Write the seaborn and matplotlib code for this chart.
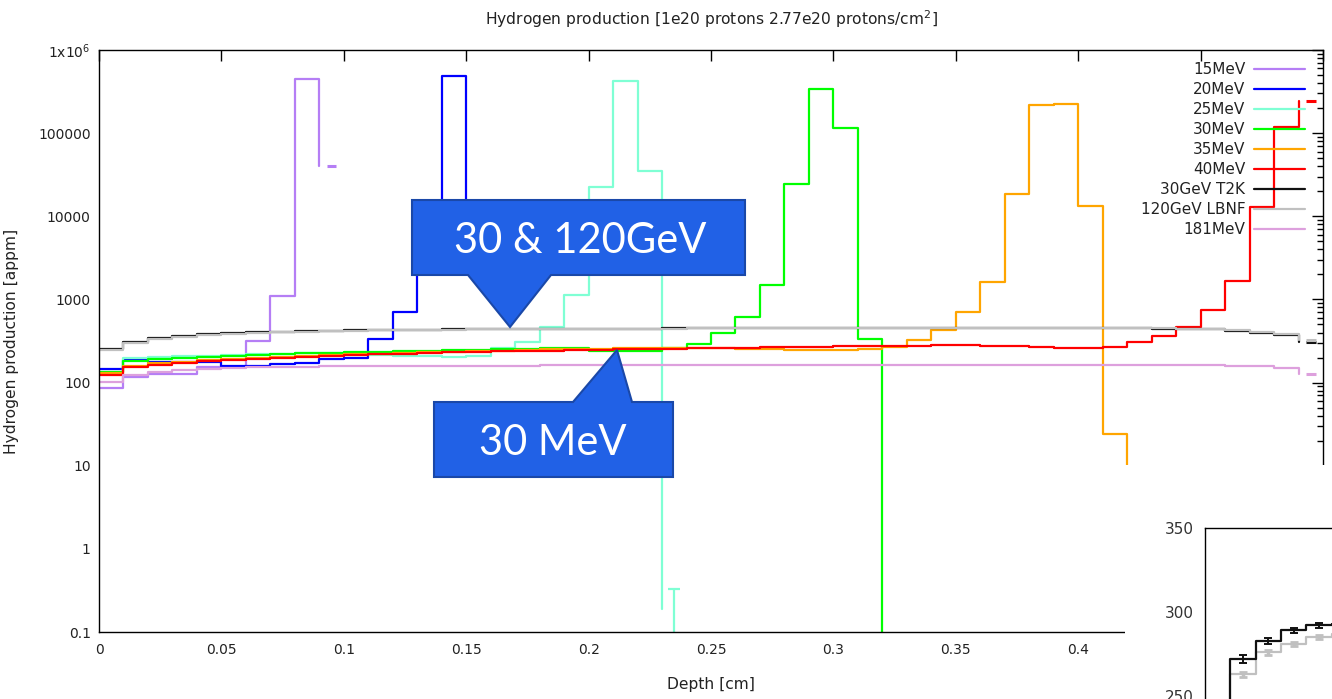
import numpy as np
import pandas as pd
import matplotlib
matplotlib.use("Agg")
import matplotlib.pyplot as plt
import seaborn as sns
from matplotlib.patches import Polygon, Rectangle
from matplotlib.lines import Line2D
from matplotlib.ticker import FixedLocator, FixedFormatter, LogLocator, NullFormatter

# ---------------- data (appm per 0.01 cm depth bin, starting at 0) ----------------
BIN = 0.01
series_names = ["15MeV", "20MeV", "25MeV", "30MeV", "35MeV", "40MeV",
                "30GeV T2K", "120GeV LBNF", "181MeV"]
series_colors = ["#b57ef5", "#0000ff", "#7fffd4", "#00ff00", "#ffa500", "#ff0000",
                 "#111111", "#c0c0c0", "#dda0dd"]

mev15 = [86, 117, 127, 127, 154, 155, 316, 1100, 448000, 40300]
mev20 = [146, 186, 178, 178, 176, 157, 158, 165, 172, 192, 198, 334, 706, 6000, 487000, 8000]
mev25 = [134, 196, 201, 206, 211, 215, 218, 221, 224, 226, 222, 216, 210, 207, 205, 206,
         261, 310, 470, 1130, 22500, 424000, 35000, 0.19]
mev30 = [135, 183, 192, 199, 205, 211, 216, 220, 225, 229, 232, 236, 239, 242, 246, 249,
         252, 255, 258, 260, 240, 238, 241, 262, 292, 390, 623, 1490, 24700, 335000, 115000,
         330, 0.001]
mev35 = [130, 158, 170, 178, 186, 193, 199, 205, 210, 215, 219, 223, 227, 231, 235, 239,
         243, 246, 250, 253, 256, 259, 262, 264, 262, 258, 255, 252, 248, 246, 244, 250,
         268, 325, 429, 712, 1636, 18400, 218000, 222000, 13300, 24, 1]
mev40 = [124, 152, 163, 172, 180, 187, 193, 199, 204, 209, 214, 218, 222, 226, 230, 234,
         237, 240, 243, 246, 249, 251, 254, 256, 258, 261, 263, 265, 268, 270, 272, 274,
         277, 279, 281, 282, 279, 275, 266, 262, 263, 270, 308, 363, 470, 746, 1667, 12800,
         120000, 245000]
gev30_t2k = [254, 310, 340, 366, 384, 395, 403, 410, 415, 420, 424, 428, 431, 434, 436, 438,
             440, 442, 443, 444, 445, 446, 447, 448, 448, 449, 449, 450, 450, 450, 450, 450,
             450, 450, 450, 450, 450, 450, 450, 450, 450, 449, 448, 446, 444, 437, 415, 395,
             375, 310]
gev120_lbnf = [245, 300, 330, 356, 375, 388, 397, 405, 411, 416, 421, 425, 429, 432, 434, 437,
               439, 441, 442, 443, 444, 445, 446, 447, 448, 449, 449, 450, 450, 451, 451, 451,
               451, 451, 451, 451, 451, 451, 451, 451, 452, 452, 452, 450, 447, 440, 425, 405,
               380, 325]
mev181 = [102, 125, 135, 142, 147, 151, 153, 155, 156, 157, 158, 158, 159, 159, 160, 160,
          160, 160, 161, 161, 161, 161, 161, 162, 162, 162, 162, 162, 162, 162, 162, 162,
          162, 163, 163, 163, 163, 163, 163, 163, 163, 163, 163, 163, 163, 163, 157, 157,
          150, 127]
series_values = [mev15, mev20, mev25, mev30, mev35, mev40, gev30_t2k, gev120_lbnf, mev181]

# 25 MeV last-bin error bar (upper end)
mev25_last_upper = 0.33

# inset (zoom on the GeV curves)
inset_depth = [0.001, 0.002, 0.003, 0.004, 0.005]
inset_t2k = [272, 283, 289, 292, 293]
inset_lbnf = [263, 276, 281, 285, 287]
inset_t2k_err = [2.5, 1.8, 1.5, 1.5, 1.5]
inset_lbnf_err = [1.5, 1.5, 1.2, 1.2, 1.2]

x_ticks = [0, 0.05, 0.1, 0.15, 0.2, 0.25, 0.3, 0.35, 0.4, 0.45, 0.5]
x_ticklabels = ["0", "0.05", "0.1", "0.15", "0.2", "0.25", "0.3", "0.35", "0.4", "0.45", "0.5"]
y_ticks = [0.1, 1, 10, 100, 1000, 10000, 100000, 1e6]
y_ticklabels = ["0.1", "1", "10", "100", "1000", "10000", "100000", r"1x10$^6$"]

title = r"Hydrogen production [1e20 protons 2.77e20 protons/cm$^2$]"

# ---------------- build long table ----------------
rows = []
for name, vals in zip(series_names, series_values):
    for i, v in enumerate(vals):
        rows.append({"series": name, "depth": round(i * BIN, 4), "value": v})
df = pd.DataFrame(rows)

sns.set_theme(style="white")
plt.rcParams["font.family"] = ["DejaVu Sans"]
plt.rcParams["axes.edgecolor"] = "black"
plt.rcParams["axes.linewidth"] = 1.0

W, H = 1332, 699
fig = plt.figure(figsize=(W / 100, H / 100), dpi=100)
fig.patch.set_facecolor("white")

def fx(px):
    return px / W

def fy(py):
    return 1 - py / H

ax = fig.add_axes([fx(99), fy(632), fx(1323) - fx(99), fy(50) - fy(632)])
ax.set_yscale("log")

palette = dict(zip(series_names, series_colors))
sns.lineplot(data=df, x="depth", y="value", hue="series", hue_order=series_names,
             palette=palette, drawstyle="steps-post", estimator=None, sort=False,
             linewidth=1.6, legend=False, ax=ax)

# last bin of each series shown as a short dash at the bin centre
for name, vals in zip(series_names, series_values):
    c = (len(vals) - 1) * BIN + BIN / 2
    if name == "25MeV":
        ax.errorbar([c], [vals[-1]], yerr=[[vals[-1] * 0.999], [mev25_last_upper - vals[-1]]],
                    fmt="none", ecolor=palette[name], elinewidth=1.6, capsize=4, capthick=1.6)
    else:
        ax.hlines(vals[-1], c - 0.002, c + 0.002, colors=palette[name], linewidth=2.2)

ax.set_xlim(0, 0.5)
ax.set_ylim(0.1, 1e6)
ax.xaxis.set_major_locator(FixedLocator(x_ticks))
ax.xaxis.set_major_formatter(FixedFormatter(x_ticklabels))
ax.yaxis.set_major_locator(FixedLocator(y_ticks))
ax.yaxis.set_major_formatter(FixedFormatter(y_ticklabels))
ax.yaxis.set_minor_locator(LogLocator(base=10, subs=np.arange(2, 10), numticks=20))
ax.yaxis.set_minor_formatter(NullFormatter())
ax.tick_params(which="both", direction="in", top=True, right=True, colors="black",
               labelcolor="#222222", labelsize=10, width=1)
ax.tick_params(which="major", length=8)
ax.tick_params(which="minor", length=4)
ax.tick_params(axis="x", pad=8)
ax.tick_params(axis="y", pad=6)
for sp in ax.spines.values():
    sp.set_color("black")
    sp.set_linewidth(1)

ax.set_xlabel("Depth [cm]", fontsize=11.2, color="#222222", va="center")
ax.xaxis.set_label_coords(0.5, (632 - 685) / 582)
ax.set_ylabel("Hydrogen production [appm]", fontsize=11.2, color="#222222", va="center")
ax.yaxis.set_label_coords((12 - 99) / 1224, 0.5)
ax.set_title(title, fontsize=11.2, color="#222222", y=1 + 31 / 582, pad=0, va="center")

handles = [Line2D([], [], color=c, lw=1.6) for c in series_colors]
leg = ax.legend(handles, series_names, loc="upper right", bbox_to_anchor=(0.9902, 0.9897),
                frameon=False, markerfirst=False, fontsize=11, handlelength=3.3,
                handletextpad=0.6, labelspacing=0.33, borderaxespad=0)
for t in leg.get_texts():
    t.set_color("#222222")

# white cover under the inset
fig.add_artist(Rectangle((fx(1124.5), 0), fx(1332) - fx(1124.5), fy(465), transform=fig.transFigure,
                         facecolor="white", edgecolor="none", zorder=5))

# ---------------- inset ----------------
in_w = 303.6
in_top, in_bot = 528, 780
ax_in = fig.add_axes([fx(1205), fy(in_bot), in_w / W, (in_bot - in_top) / H])
ax_in.set_zorder(6)
ax_in.set_facecolor("white")
step = inset_depth[1] - inset_depth[0]
inset_rows = []
for name, vals in (("120GeV LBNF", inset_lbnf), ("30GeV T2K", inset_t2k)):
    xs = [0.0] + list(inset_depth) + [inset_depth[-1] + step]
    ys = [0.0] + list(vals) + [vals[-1]]
    for xv, yv in zip(xs, ys):
        inset_rows.append({"series": name, "depth": xv, "value": yv})
dfi = pd.DataFrame(inset_rows)
sns.lineplot(data=dfi, x="depth", y="value", hue="series",
             hue_order=["120GeV LBNF", "30GeV T2K"], palette=palette,
             drawstyle="steps-post", estimator=None, sort=False, linewidth=1.6,
             legend=False, ax=ax_in)
centers = [d + step / 2 for d in inset_depth]
ax_in.errorbar(centers, inset_lbnf, yerr=inset_lbnf_err, fmt="none", ecolor="#c0c0c0",
               elinewidth=2.5, capsize=3, capthick=2)
ax_in.errorbar(centers, inset_t2k, yerr=inset_t2k_err, fmt="none", ecolor="#111111",
               elinewidth=1.4, capsize=3, capthick=1.4)
ax_in.set_xlim(0, 0.012)
ax_in.set_ylim(200, 350)
ax_in.set_yticks([250, 300, 350])
ax_in.set_yticklabels(["250", "300", "350"])
ax_in.set_xticks([])
ax_in.set_xlabel("")
ax_in.set_ylabel("")
ax_in.tick_params(axis="y", direction="in", length=8, width=1, labelsize=11,
                  labelcolor="#333333", pad=8)
for sp in ax_in.spines.values():
    sp.set_color("black")
    sp.set_linewidth(1)

# ---------------- callouts ----------------
fill_c = "#2161e6"
edge_c = "#1a48a8"
call1 = [(412, 200), (745, 200), (745, 275), (551, 275), (510, 327), (468, 275), (412, 275)]
call2 = [(434, 402), (573, 402), (617, 350), (632, 402), (673, 402), (673, 477), (434, 477)]
for pts in (call1, call2):
    fig.add_artist(Polygon([(fx(x), fy(y)) for x, y in pts], closed=True,
                           transform=fig.transFigure, facecolor=fill_c, edgecolor=edge_c,
                           linewidth=1.5, zorder=7))
fig.text(fx(580), fy(253), "30 & 120GeV", color="white", fontsize=30, family=["Lato", "DejaVu Sans"],
         ha="center", va="baseline", zorder=8)
fig.text(fx(553), fy(455), "30 MeV", color="white", fontsize=30, family=["Lato", "DejaVu Sans"],
         ha="center", va="baseline", zorder=8)

fig.savefig("out.png", dpi=100, facecolor="white")
